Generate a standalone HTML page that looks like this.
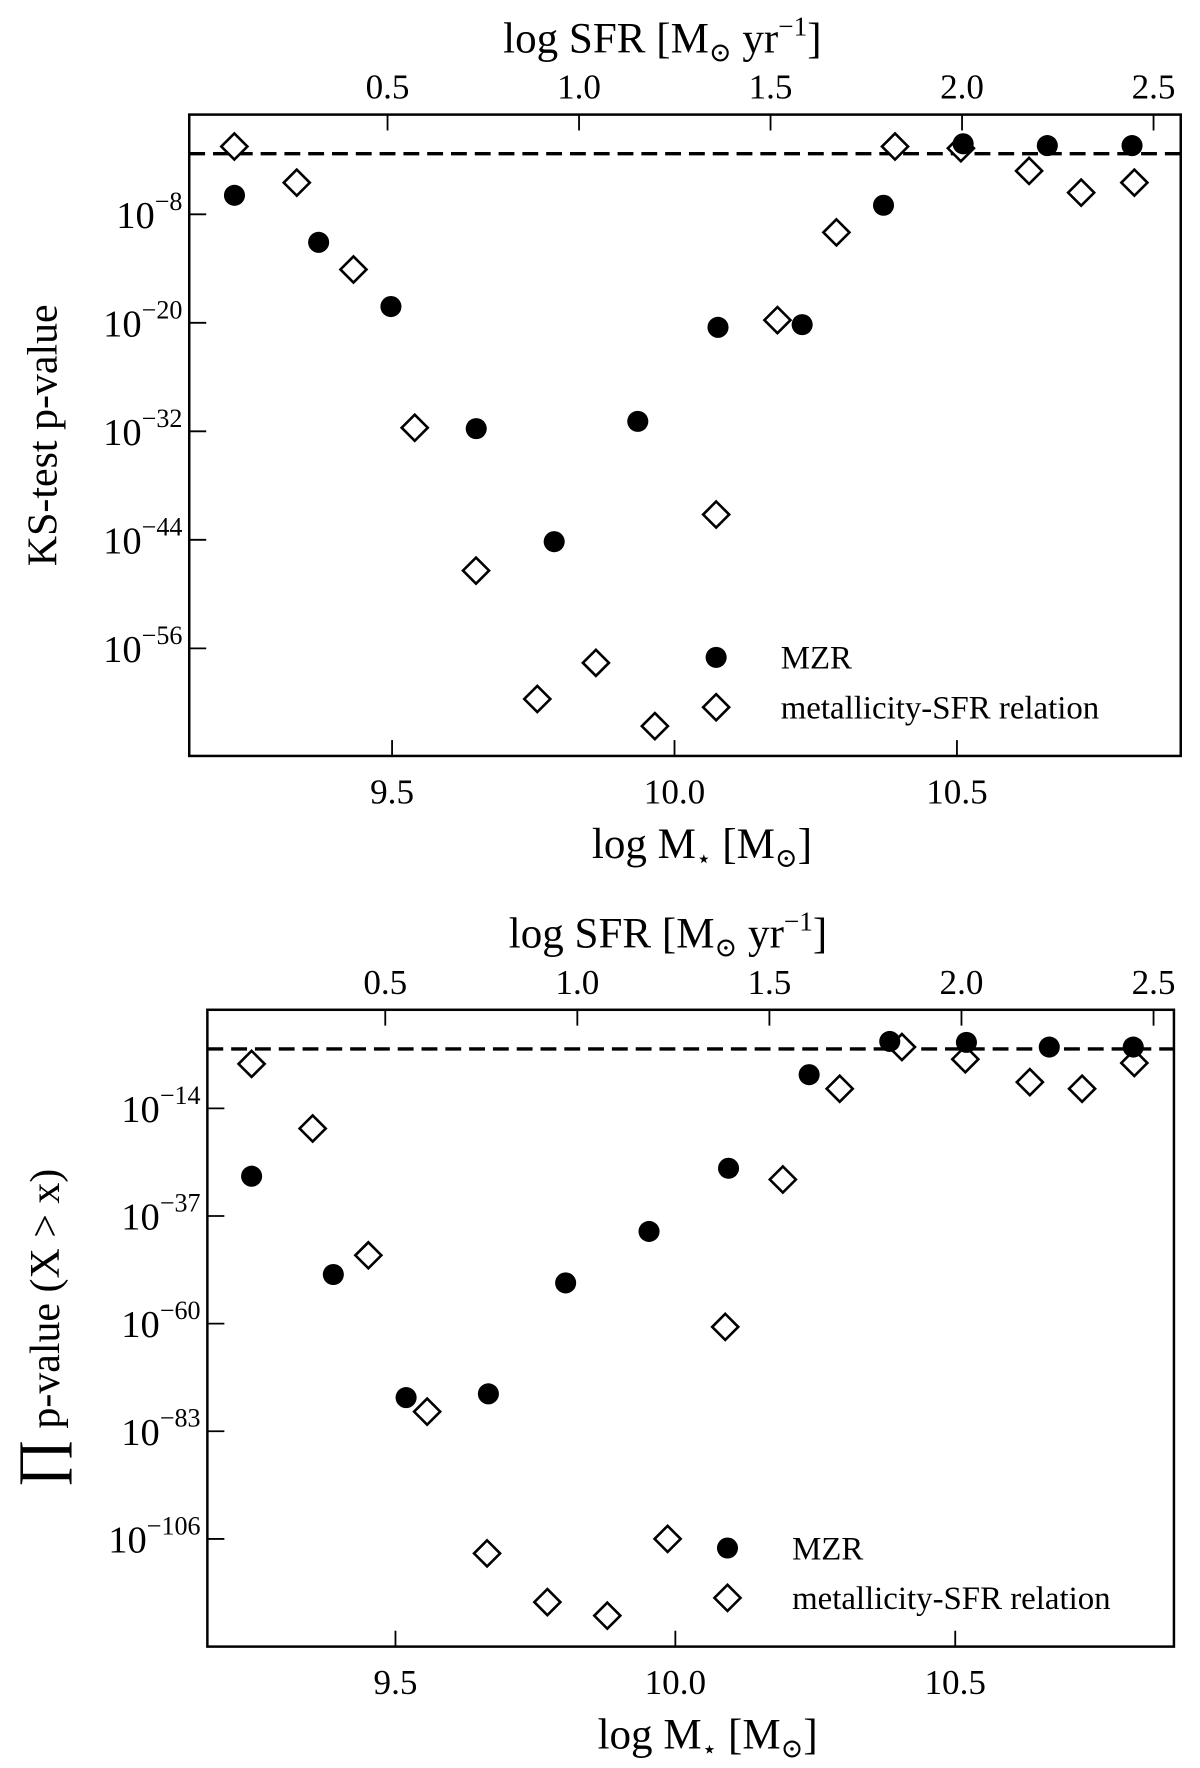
<!DOCTYPE html>
<html><head><meta charset="utf-8"><style>
html,body{margin:0;padding:0;background:#fff;}
svg{display:block;}
svg text{font-family:"Liberation Serif","DejaVu Serif",serif;fill:#000;}
</style></head>
<body>
<svg id="fig" width="1200" height="1768" viewBox="0 0 1059 1560" xmlns="http://www.w3.org/2000/svg" font-family="Liberation Serif, serif"></svg>
<script>
// ---- Panel 1 data (KS-test p-value) ----
const p1MzrMass = [9.221, 9.370, 9.498, 9.649, 9.787, 9.935, 10.077, 10.226, 10.370, 10.511, 10.660, 10.810];
const p1MzrLogP = [-5.9, -11.1, -18.2, -31.7, -44.2, -30.9, -20.5, -20.2, -7.0, -0.2, -0.4, -0.4];
const p1SfrVals = [0.100, 0.263, 0.411, 0.571, 0.731, 0.891, 1.044, 1.198, 1.358, 1.518, 1.672, 1.825, 1.997, 2.175, 2.311, 2.450];
const p1SfrLogP = [-0.5, -4.5, -14.1, -31.6, -47.4, -61.6, -57.6, -64.6, -41.2, -19.7, -10.0, -0.5, -0.7, -3.2, -5.6, -4.5];
const p1YTicks = [-8, -20, -32, -44, -56];
// ---- Panel 2 data (product p-value) ----
const p2MzrMass = [9.243, 9.389, 9.519, 9.666, 9.804, 9.953, 10.095, 10.239, 10.383, 10.520, 10.668, 10.818];
const p2MzrLogP = [-28.5, -49.5, -75.8, -75.0, -51.3, -40.3, -26.8, -6.8, 0.3, 0.1, -0.9, -0.9];
const p2SfrVals = [0.152, 0.311, 0.456, 0.609, 0.765, 0.922, 1.078, 1.235, 1.385, 1.535, 1.683, 1.845, 2.010, 2.178, 2.314, 2.450];
const p2SfrLogP = [-4.5, -18.3, -45.4, -78.8, -109.1, -119.5, -122.4, -106.0, -60.7, -29.2, -9.8, -0.9, -3.5, -8.4, -9.8, -4.3];
const p2YTicks = [-14, -37, -60, -83, -106];
const massTicks = [9.5, 10.0, 10.5];
const massTickLabels = ["9.5", "10.0", "10.5"];
const sfrTicks = [0.5, 1.0, 1.5, 2.0, 2.5];
const sfrTickLabels = ["0.5", "1.0", "1.5", "2.0", "2.5"];
const threshold = -1.3;

const NS = "http://www.w3.org/2000/svg";
const svg = document.getElementById('fig');
const FF = '"Liberation Serif", serif';
function mk(tag, attrs, parent) {
  const e = document.createElementNS(NS, tag);
  for (const k in attrs) e.setAttribute(k, attrs[k]);
  if (tag === 'text') e.setAttribute('font-family', FF);
  (parent || svg).appendChild(e);
  return e;
}

function panel(cfg) {
  const g = mk('g', {});
  
  
  const L = cfg.box[0], T = cfg.box[1], R = cfg.box[2], B = cfg.box[3];
  const xM = v => cfg.mA + (v - cfg.mV) * cfg.mS;
  const xS = v => cfg.sA + (v - cfg.sV) * cfg.sS;
  const yP = v => cfg.yA - (v - cfg.yV) * cfg.yS;

  const frame = mk('rect', {x: L, y: T, width: R - L, height: B - T, fill: 'none', stroke: '#000', 'stroke-width': 2.2}, g);
  
  

  massTicks.forEach((v, i) => {
    const x = xM(v);
    const t = mk('line', {x1: x, x2: x, y1: B, y2: B - 14, stroke: '#000', 'stroke-width': 1.6}, g);
    
    
    const lb = mk('text', {x: x, y: B + 42, 'font-size': 31, 'text-anchor': 'middle'}, g);
    lb.textContent = massTickLabels[i];
    
    
  });
  sfrTicks.forEach((v, i) => {
    const x = xS(v);
    const t = mk('line', {x1: x, x2: x, y1: T, y2: T + 14, stroke: '#000', 'stroke-width': 1.6}, g);
    
    
    const lb = mk('text', {x: x, y: T - 14, 'font-size': 31, 'text-anchor': 'middle'}, g);
    lb.textContent = sfrTickLabels[i];
    
    
  });
  cfg.yTicks.forEach(v => {
    const y = yP(v);
    const t = mk('line', {x1: L, x2: L + 15, y1: y, y2: y, stroke: '#000', 'stroke-width': 1.6}, g);
    
    
    const lb = mk('text', {x: L - 6, y: y + 12, 'font-size': 34, 'text-anchor': 'end'}, g);
    
    
    const base = mk('tspan', {}, lb); base.textContent = '10';
    const ex = mk('tspan', {dy: -16, 'font-size': 23}, lb); ex.textContent = '\u2212' + Math.abs(v);
  });
  const th = mk('line', {x1: L, x2: R, y1: yP(threshold), y2: yP(threshold), stroke: '#000', 'stroke-width': 3, 'stroke-dasharray': '14 7'}, g);
  
  

  cfg.sfr.forEach((v, i) => {
    const x = xS(v), y = yP(cfg.sfrP[i]), d = 11.5;
    const p = mk('polygon', {points: `${x},${y-d} ${x+d},${y} ${x},${y+d} ${x-d},${y}`, fill: '#fff', stroke: '#000', 'stroke-width': 2.3}, g);
    
    
  });
  cfg.mass.forEach((v, i) => {
    const c = mk('circle', {cx: xM(v), cy: yP(cfg.massP[i]), r: 9.3, fill: '#000'}, g);
    
    
  });

  const lg = mk('g', {}, g);
  
  
  const lx = cfg.leg[0], ly = cfg.leg[1];
  const ld = mk('circle', {cx: lx, cy: ly, r: 9.3, fill: '#000'}, lg);
  
  
  const lt1 = mk('text', {x: lx + 57, y: ly + 10, 'font-size': 29}, lg);
  lt1.textContent = 'MZR';
  
  
  const y2 = ly + 44, d = 11.5;
  const lp = mk('polygon', {points: `${lx},${y2-d} ${lx+d},${y2} ${lx},${y2+d} ${lx-d},${y2}`, fill: '#fff', stroke: '#000', 'stroke-width': 2.3}, lg);
  
  
  const lt2 = mk('text', {x: lx + 57, y: y2 + 10, 'font-size': 29}, lg);
  lt2.textContent = 'metallicity-SFR relation';
  
  

  const xt = mk('text', {x: (L + R) / 2 + 15, y: B + 90, 'font-size': 38, 'text-anchor': 'middle'}, g);
  
  
  xt.innerHTML = 'log M<tspan dy="8" font-size="22">\u22C6</tspan><tspan dy="-8"> [M</tspan><tspan dy="8" font-size="24">\u2299</tspan><tspan dy="-8">]</tspan>';
  const tt = mk('text', {x: (L + R) / 2 - 20, y: T - 55, 'font-size': 38, 'text-anchor': 'middle'}, g);
  
  
  tt.innerHTML = 'log SFR [M<tspan dy="8" font-size="24">\u2299</tspan><tspan dy="-8"> yr</tspan><tspan dy="-15" font-size="24">\u22121</tspan><tspan dy="15">]</tspan>';
  const yt = mk('text', {x: 0, y: 0, 'font-size': cfg.yFont, 'text-anchor': 'middle', transform: `translate(${cfg.yTitleX},${(T + B) / 2}) rotate(-90)`}, g);
  
  
  yt.innerHTML = cfg.yTitle;
}

panel({name: 'ks-test-panel', box: [167, 101, 1042, 667],
  mA: 346, mV: 9.5, mS: 498.5, sA: 342, sV: 0.5, sS: 338,
  yA: 189, yV: -8, yS: 7.98, yTicks: p1YTicks,
  mass: p1MzrMass, massP: p1MzrLogP, sfr: p1SfrVals, sfrP: p1SfrLogP,
  leg: [632, 580], yTitleX: 50, yFont: 37, yTitle: 'KS-test p-value'});
panel({name: 'product-pvalue-panel', box: [183, 891, 1036, 1453],
  mA: 349, mV: 9.5, mS: 494, sA: 340, sV: 0.5, sS: 339,
  yA: 978, yV: -14, yS: 4.13, yTicks: p2YTicks,
  mass: p2MzrMass, massP: p2MzrLogP, sfr: p2SfrVals, sfrP: p2SfrLogP,
  leg: [642, 1366], yTitleX: 52, yFont: 37, yTitle: '<tspan font-size="52">\u220F</tspan> p-value (X &gt; x)'});
</script>
</body></html>
